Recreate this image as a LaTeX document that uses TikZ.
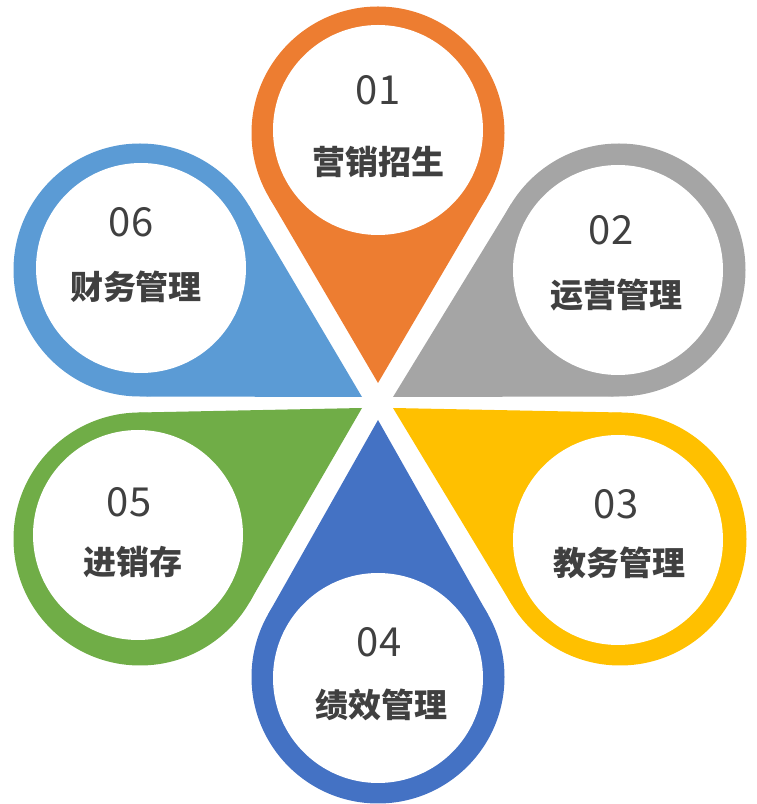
\documentclass[tikz,border=0pt]{standalone}
\usepackage{fontspec}
\newfontfamily\cjk{Noto Sans CJK SC}
\usetikzlibrary{calc}
\definecolor{petalorange}{HTML}{ED7D31}
\definecolor{petalgray}{HTML}{A5A5A5}
\definecolor{petalyellow}{HTML}{FFC000}
\definecolor{petalblue}{HTML}{4472C4}
\definecolor{petalgreen}{HTML}{70AD47}
\definecolor{petalsky}{HTML}{5B9BD5}
\definecolor{txtgray}{HTML}{404040}
\tikzset{
ring/.style={circle, fill=#1, minimum size=253pt, inner sep=0pt, outer sep=0pt},
hole/.style={circle, fill=white, minimum size=210pt, inner sep=0pt, outer sep=0pt},
num/.style={text=txtgray, font=\cjk\fontsize{40}{40}\selectfont},
lbl/.style={text=txtgray, font=\cjk\bfseries\fontsize{33}{33}\selectfont}
}
\begin{document}
\begin{tikzpicture}[x=1pt, y=1pt]
\useasboundingbox (0,0) rectangle (757,804);
% heads
\node[ring=petalorange] (r1) at (378,671) {};
\node[ring=petalgray] (r2) at (619,534) {};
\node[ring=petalyellow] (r3) at (620,265) {};
\node[ring=petalblue] (r4) at (378,127) {};
\node[ring=petalgreen] (r5) at (140,265) {};
\node[ring=petalsky] (r6) at (140,534) {};
% tips
\coordinate (t1) at (378,421);
\coordinate (t2) at (393,407);
\coordinate (t3) at (393,396);
\coordinate (t4) at (378,384);
\coordinate (t5) at (362,396);
\coordinate (t6) at (362,407);
% points
\fill[petalorange] (t1) -- (tangent cs:node=r1,point={(t1)},solution=1) -- (r1.center)
  -- (tangent cs:node=r1,point={(t1)},solution=2) -- cycle;
\fill[petalgray] (t2) -- (tangent cs:node=r2,point={(t2)},solution=1) -- (r2.center)
  -- (tangent cs:node=r2,point={(t2)},solution=2) -- cycle;
\fill[petalyellow] (t3) -- (tangent cs:node=r3,point={(t3)},solution=1) -- (r3.center)
  -- (tangent cs:node=r3,point={(t3)},solution=2) -- cycle;
\fill[petalblue] (t4) -- (tangent cs:node=r4,point={(t4)},solution=1) -- (r4.center)
  -- (tangent cs:node=r4,point={(t4)},solution=2) -- cycle;
\fill[petalgreen] (t5) -- (tangent cs:node=r5,point={(t5)},solution=1) -- (r5.center)
  -- (tangent cs:node=r5,point={(t5)},solution=2) -- cycle;
\fill[petalsky] (t6) -- (tangent cs:node=r6,point={(t6)},solution=1) -- (r6.center)
  -- (tangent cs:node=r6,point={(t6)},solution=2) -- cycle;
% white centres
\node[hole] (h1) at (378,674) {};
\node[hole] (h2) at (618,534) {};
\node[hole] (h3) at (618,264) {};
\node[hole] (h4) at (378,126) {};
\node[hole] (h5) at (138,269) {};
\node[hole] (h6) at (141,536) {};
% texts
\node[num] (n1) at (378,714) {01};
\node[lbl] (l1) at (378,642) {营销招生};
\node[num] (n2) at (611,574) {02};
\node[lbl] (l2) at (616,509) {运营管理};
\node[num] (n3) at (616,300) {03};
\node[lbl] (l3) at (619,241) {教务管理};
\node[num] (n4) at (379,162) {04};
\node[lbl] (l4) at (381,99) {绩效管理};
\node[num] (n5) at (129,302) {05};
\node[lbl] (l5) at (133,242) {进销存};
\node[num] (n6) at (131,582) {06};
\node[lbl] (l6) at (136,517) {财务管理};
\end{tikzpicture}
\end{document}
